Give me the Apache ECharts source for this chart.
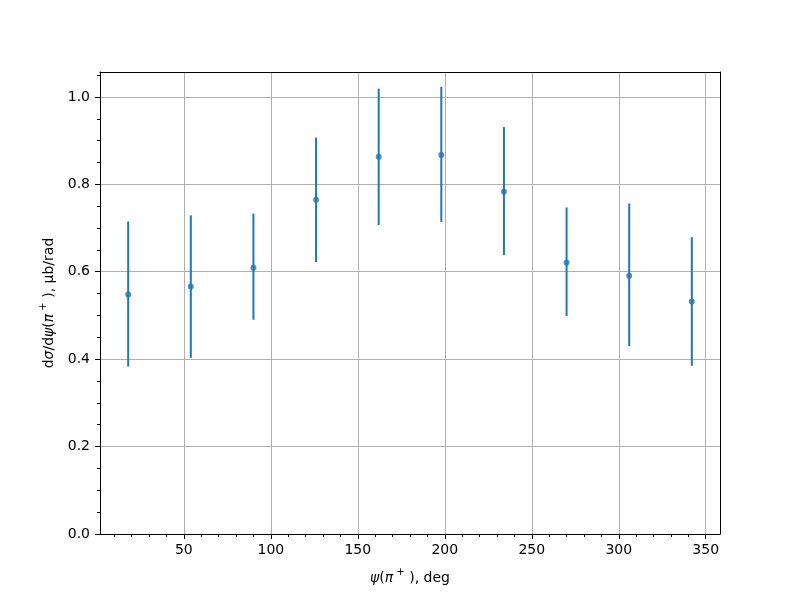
<!DOCTYPE html>
<html>
<head>
<meta charset="utf-8">
<script src="https://cdn.jsdelivr.net/npm/echarts@6/dist/echarts.min.js"></script>
<style>html,body{margin:0;padding:0;background:#fff}#c{width:800px;height:600px}</style>
</head>
<body>
<div id="c"></div>
<script>
// Data
const angles = [18, 54, 90, 126, 162, 198, 234, 270, 306, 342];
const values = [0.548, 0.566, 0.609, 0.765, 0.863, 0.867, 0.783, 0.621, 0.591, 0.532];
const lowers = [0.383, 0.403, 0.490, 0.622, 0.707, 0.714, 0.638, 0.499, 0.430, 0.385];
const uppers = [0.715, 0.729, 0.733, 0.907, 1.019, 1.023, 0.931, 0.747, 0.756, 0.679];
const xTicks = [50, 100, 150, 200, 250, 300, 350];
const xMinorTicks = [10, 20, 30, 40, 60, 70, 80, 90, 110, 120, 130, 140, 160, 170, 180, 190, 210, 220, 230, 240, 260, 270, 280, 290, 310, 320, 330, 340];
const yTicks = [0, 0.2, 0.4, 0.6, 0.8, 1.0];
const yMinorTicks = [0.05, 0.1, 0.15, 0.25, 0.3, 0.35, 0.45, 0.5, 0.55, 0.65, 0.7, 0.75, 0.85, 0.9, 0.95, 1.05];

const FONT = 'DejaVu Sans';
const BLUE = '#1f77b4';
const X_MIN = 1.8, X_MAX = 358.2, Y_MIN = 0, Y_MAX = 1.057;

const chart = echarts.init(document.getElementById('c'), null, {renderer: 'canvas'});

const errData = angles.map((a, i) => [a, lowers[i], uppers[i]]);
const ptData = angles.map((a, i) => [a, values[i]]);

const hidden = {show: false};
const spine = {show: true, onZero: false, lineStyle: {color: '#000', width: 1}};
const richStyles = {
  n: {fontFamily: FONT, fontSize: 14, color: '#000', lineHeight: 18, verticalAlign: 'bottom'},
  i: {fontStyle: 'italic', fontFamily: FONT, fontSize: 14, color: '#000', lineHeight: 18, verticalAlign: 'bottom'},
  sup: {fontFamily: FONT, fontSize: 10, color: '#000', lineHeight: 18, verticalAlign: 'top'}
};

chart.setOption({
  animation: false,
  backgroundColor: '#fff',
  grid: {left: 100, top: 72, width: 620, height: 462, containLabel: false},
  xAxis: [
    {
      type: 'value', min: X_MIN, max: X_MAX, position: 'bottom', gridIndex: 0,
      axisLine: spine,
      axisTick: {show: true, customValues: xTicks, length: 5, lineStyle: {color: '#000', width: 1}},
      axisLabel: {show: true, customValues: xTicks, margin: 9, color: '#000', fontFamily: FONT, fontSize: 14},
      splitLine: {show: true, lineStyle: {color: '#b0b0b0', width: 1}},
      name: '{i|ψ}{n|(}{i|π}{sup| +}{n| ), deg}',
      nameLocation: 'middle', nameGap: 33,
      nameTextStyle: {color: '#000', fontFamily: FONT, fontSize: 14, rich: richStyles}
    },
    {
      type: 'value', min: X_MIN, max: X_MAX, position: 'bottom', gridIndex: 0,
      axisLine: hidden,
      axisTick: {show: true, customValues: xMinorTicks, length: 3, lineStyle: {color: '#000', width: 1}},
      axisLabel: hidden, splitLine: hidden
    },
    {
      type: 'value', min: X_MIN, max: X_MAX, position: 'top', gridIndex: 0,
      axisLine: spine, axisTick: hidden, axisLabel: hidden, splitLine: hidden
    }
  ],
  yAxis: [
    {
      type: 'value', min: Y_MIN, max: Y_MAX, position: 'left', gridIndex: 0,
      axisLine: spine,
      axisTick: {show: true, customValues: yTicks, length: 5, lineStyle: {color: '#000', width: 1}},
      axisLabel: {show: true, customValues: yTicks, margin: 10, color: '#000', fontFamily: FONT, fontSize: 14,
        formatter: v => Number(v).toFixed(1)},
      splitLine: {show: true, lineStyle: {color: '#b0b0b0', width: 1}},
      name: '{n|d}{i|σ}{n|/d}{i|ψ}{n|(}{i|π}{sup| +}{n| ), μb/rad}',
      nameLocation: 'middle', nameGap: 40, nameRotate: 90,
      nameTextStyle: {color: '#000', fontFamily: FONT, fontSize: 14, rich: richStyles}
    },
    {
      type: 'value', min: Y_MIN, max: Y_MAX, position: 'left', gridIndex: 0,
      axisLine: hidden,
      axisTick: {show: true, customValues: yMinorTicks, length: 3, lineStyle: {color: '#000', width: 1}},
      axisLabel: hidden, splitLine: hidden
    },
    {
      type: 'value', min: Y_MIN, max: Y_MAX, position: 'right', gridIndex: 0,
      axisLine: spine, axisTick: hidden, axisLabel: hidden, splitLine: hidden
    }
  ],
  series: [
    {
      type: 'custom',
      xAxisIndex: 0, yAxisIndex: 0,
      data: errData,
      encode: {x: 0, y: [1, 2]},
      renderItem: function (params, api) {
        const lo = api.coord([api.value(0), api.value(1)]);
        const hi = api.coord([api.value(0), api.value(2)]);
        return {
          type: 'line',
          shape: {x1: lo[0], y1: lo[1], x2: hi[0], y2: hi[1]},
          style: {stroke: BLUE, lineWidth: 2}
        };
      },
      z: 3
    },
    {
      type: 'scatter',
      xAxisIndex: 0, yAxisIndex: 0,
      data: ptData,
      symbol: 'circle', symbolSize: 6,
      itemStyle: {color: BLUE},
      z: 4
    }
  ]
});
</script>
</body>
</html>
